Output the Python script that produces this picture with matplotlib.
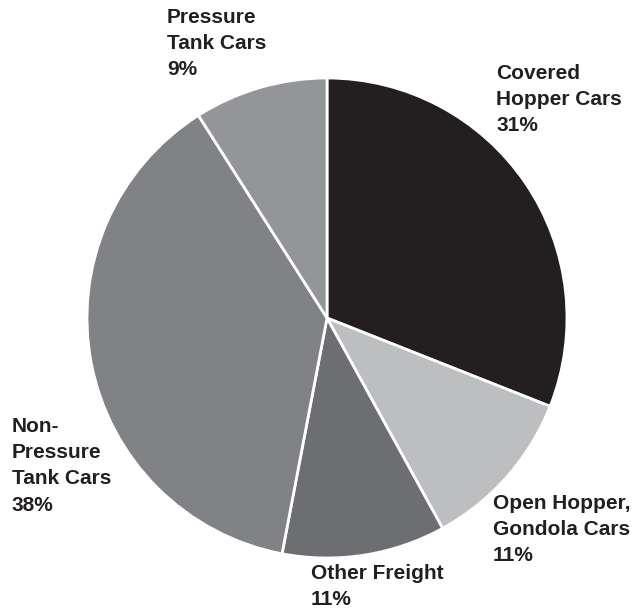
import matplotlib
matplotlib.use("Agg")
import matplotlib.pyplot as plt

# data
labels = ["Covered\nHopper Cars", "Open Hopper,\nGondola Cars", "Other Freight",
          "Non-\nPressure\nTank Cars", "Pressure\nTank Cars"]
shares = [31, 11, 11, 38, 9]
colors = ["#231f20", "#bcbec0", "#6d6e71", "#808285", "#939598"]

# label anchor (left, top) in pixels
label_pos = [(496, 64), (493, 494), (311, 564), (12, 417), (167, 8)]

W, H = 636, 610
cx, cy, r = 327, 318, 240

fig = plt.figure(figsize=(W / 100, H / 100), dpi=100)
ax = fig.add_axes([0, 0, 1, 1])
ax.pie(shares, colors=colors, startangle=90, counterclock=False,
       radius=1, center=(0, 0),
       wedgeprops=dict(edgecolor="white", linewidth=2))
ax.set_xlim(-cx / r, (W - cx) / r)
ax.set_ylim(-(H - cy) / r, cy / r)
ax.set_aspect("equal")
ax.axis("off")

for lab, val, (px, py) in zip(labels, shares, label_pos):
    fig.text(px / W, 1 - py / H, f"{lab}\n{val}%", ha="left", va="top",
             fontsize=15, fontweight="bold", family="Liberation Sans",
             color="#231f20", linespacing=1.48)

fig.savefig("out.png", dpi=100, facecolor="white")
